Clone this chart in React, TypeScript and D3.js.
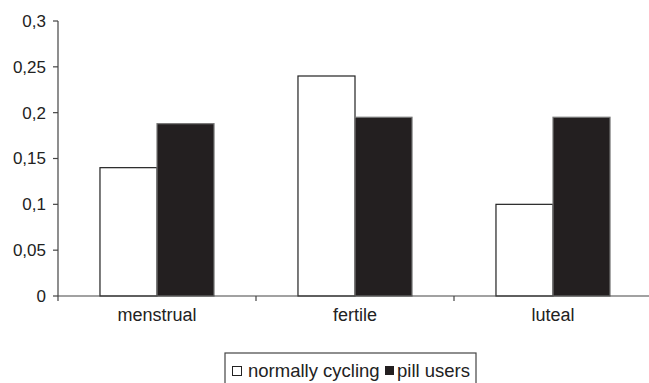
import React from "react";
import * as d3 from "d3";

const categories = ["menstrual", "fertile", "luteal"];
const seriesNames = ["normally cycling", "pill users"];
const normallyCycling = [0.14, 0.24, 0.1];
const pillUsers = [0.188, 0.195, 0.195];
const yTicks = [0, 0.05, 0.1, 0.15, 0.2, 0.25, 0.3];
const yTickLabels = ["0", "0,05", "0,1", "0,15", "0,2", "0,25", "0,3"];

const W = 649, H = 383;
const left = 58, right = 652, top = 21, bottom = 296;

export default function App() {
  const x = d3.scaleBand<string>().domain(categories).range([left, right]).paddingInner(0).paddingOuter(0);
  const y = d3.scaleLinear().domain([0, 0.3]).range([bottom, top]);
  const bw = x.bandwidth();
  const barW = bw * 0.288;
  const offset = (bw - 2 * barW) / 2;
  const series = [normallyCycling, pillUsers];
  const fills = ["#ffffff", "#231f20"];
  const strokes = ["#222", "#777"];
  const font = "Liberation Sans, Arial, sans-serif";
  return (
    <svg width={W} height={H} style={{ position: "absolute", left: 0, top: 0 }}>
      <rect width={W} height={H} fill="#fff" />
      {series.map((vals, si) =>
        categories.map((c, ci) => (
          <rect
            key={si + "-" + ci}
            x={(x(c) as number) + offset + si * barW}
            y={y(vals[ci])}
            width={barW}
            height={bottom - y(vals[ci])}
            fill={fills[si]}
            stroke={strokes[si]}
            strokeWidth={1.2}
          />
        ))
      )}
      <line x1={left} x2={left} y1={top} y2={bottom + 5} stroke="#444" strokeWidth={1.2} />
      <line x1={left} x2={W} y1={bottom} y2={bottom} stroke="#444" strokeWidth={1.2} />
      {yTicks.map((t, i) => (
        <g key={t}>
          <line x1={left - 5} x2={left} y1={y(t)} y2={y(t)} stroke="#444" strokeWidth={1.2} />
          <text x={left - 12} y={y(t)} dy="0.35em" textAnchor="end" fontFamily={font} fontSize={17} fill="#222">
            {yTickLabels[i]}
          </text>
        </g>
      ))}
      {categories.slice(1).map((c) => (
        <line key={c} x1={x(c)} x2={x(c)} y1={bottom} y2={bottom + 5} stroke="#444" strokeWidth={1.2} />
      ))}
      {categories.map((c) => (
        <text key={c} x={(x(c) as number) + offset + barW} y={321} textAnchor="middle" fontFamily={font} fontSize={18} fill="#222">
          {c}
        </text>
      ))}
      <g>
        <rect x={225} y={353} width={251} height={34} fill="#fff" stroke="#444" strokeWidth={1.2} />
        <rect x={232.5} y={366.5} width={9} height={9} fill="#fff" stroke="#222" strokeWidth={1} />
        <text x={248} y={377} fontFamily={font} fontSize={18.5} fill="#222">{seriesNames[0]}</text>
        <rect x={385} y={366} width={9} height={9} fill="#231f20" />
        <text x={397} y={377} fontFamily={font} fontSize={18.5} fill="#222">{seriesNames[1]}</text>
      </g>
    </svg>
  );
}
